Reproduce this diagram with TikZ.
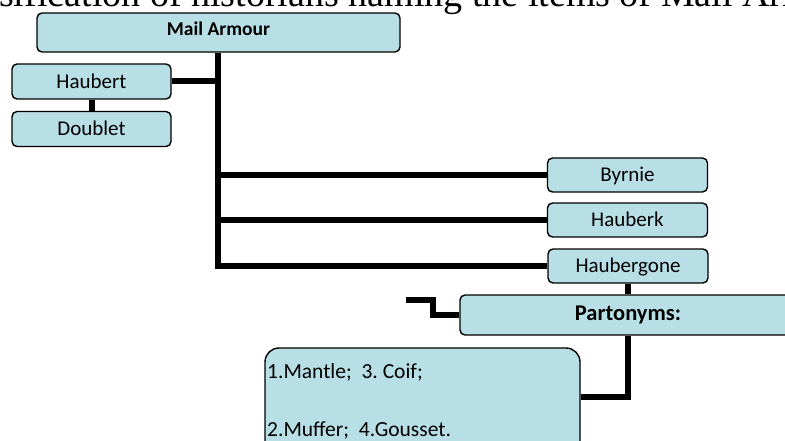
\documentclass[tikz,border=0pt]{standalone}
\usepackage{fontspec}
\setmainfont{Carlito}
\newfontfamily\titlefont{Liberation Serif}
\frenchspacing
\definecolor{boxfill}{RGB}{185,223,230}
\tikzset{
  termbox/.style={draw=black, line width=1.4pt, fill=boxfill, rounded corners=5pt,
    inner sep=0pt, font=\fontsize{21}{25}\selectfont, text height=13.5pt, text depth=0pt},
  listline/.style={anchor=west, inner sep=0pt, font=\fontsize{21.5}{25}\selectfont,
    text height=14pt, text depth=0pt},
  conn/.style={draw=black, line width=6pt, line join=miter, line cap=butt},
}
\begin{document}
\begin{tikzpicture}[x=1pt, y=-1pt]
  \useasboundingbox (0,0) rectangle (785,441);
  \clip (0,0) rectangle (785,441);
  \fill[white] (0,0) rectangle (785,441);

  % heading line running above the chart
  \node[anchor=base west, inner sep=0pt, font=\titlefont\fontsize{38}{44}\selectfont]
    (heading) at (-1,6.5) {sification of historians naming the items of Mail Arm};

  % boxes
  \node[termbox, minimum width=363pt, minimum height=39pt,
        font=\bfseries\fontsize{19.5}{23}\selectfont, text height=12.5pt, text depth=7pt]
    (mail) at (218.5,32.5) {Mail Armour};
  \node[termbox, minimum width=159pt, minimum height=35pt] (haubert) at (91.5,81.5) {Haubert};
  \node[termbox, minimum width=159pt, minimum height=35pt] (doublet) at (91.5,129) {Doublet};
  \node[termbox, minimum width=160pt, minimum height=34pt] (byrnie) at (627.5,175) {Byrnie};
  \node[termbox, minimum width=160pt, minimum height=34pt] (hauberk) at (627.5,220) {Hauberk};
  \node[termbox, minimum width=160pt, minimum height=34pt] (haubergone) at (628,266) {Haubergone};
  \node[termbox, minimum width=336pt, minimum height=40pt,
        font=\bfseries\fontsize{22.5}{27}\selectfont, text height=14.5pt, text depth=4pt]
    (parts) at (628,315) {Partonyms:};
  \node[termbox, rounded corners=14pt, minimum width=315pt, minimum height=112pt]
    (list) at (422.5,404) {};
  \node[listline] (list1) at (267,371) {1.Mantle;\ \ 3. Coif;};
  \node[listline] (list2) at (267,429) {2.Muffer;\ \ 4.Gousset.};

  % connectors
  \coordinate (trunk) at (218,0);
  \coordinate (elbow) at (628,397);
  \coordinate (stub) at (406,300);
  \coordinate (bend) at (433,0);

  \draw[conn] (mail.south -| trunk) |- (haubergone.west);
  \draw[conn] (trunk |- byrnie.west) -- (byrnie.west);
  \draw[conn] (trunk |- hauberk.west) -- (hauberk.west);
  \draw[conn] (haubert.east) -- (haubert.east -| trunk);
  \draw[conn] (haubert.south) -- (doublet.north);
  \draw[conn] (haubergone.south) -- (parts.north);
  \draw[conn] (parts.south) -- (elbow) -- (elbow -| list.east);
  \draw[conn] (stub) -- (stub -| bend) |- (parts.west);
\end{tikzpicture}
\end{document}
